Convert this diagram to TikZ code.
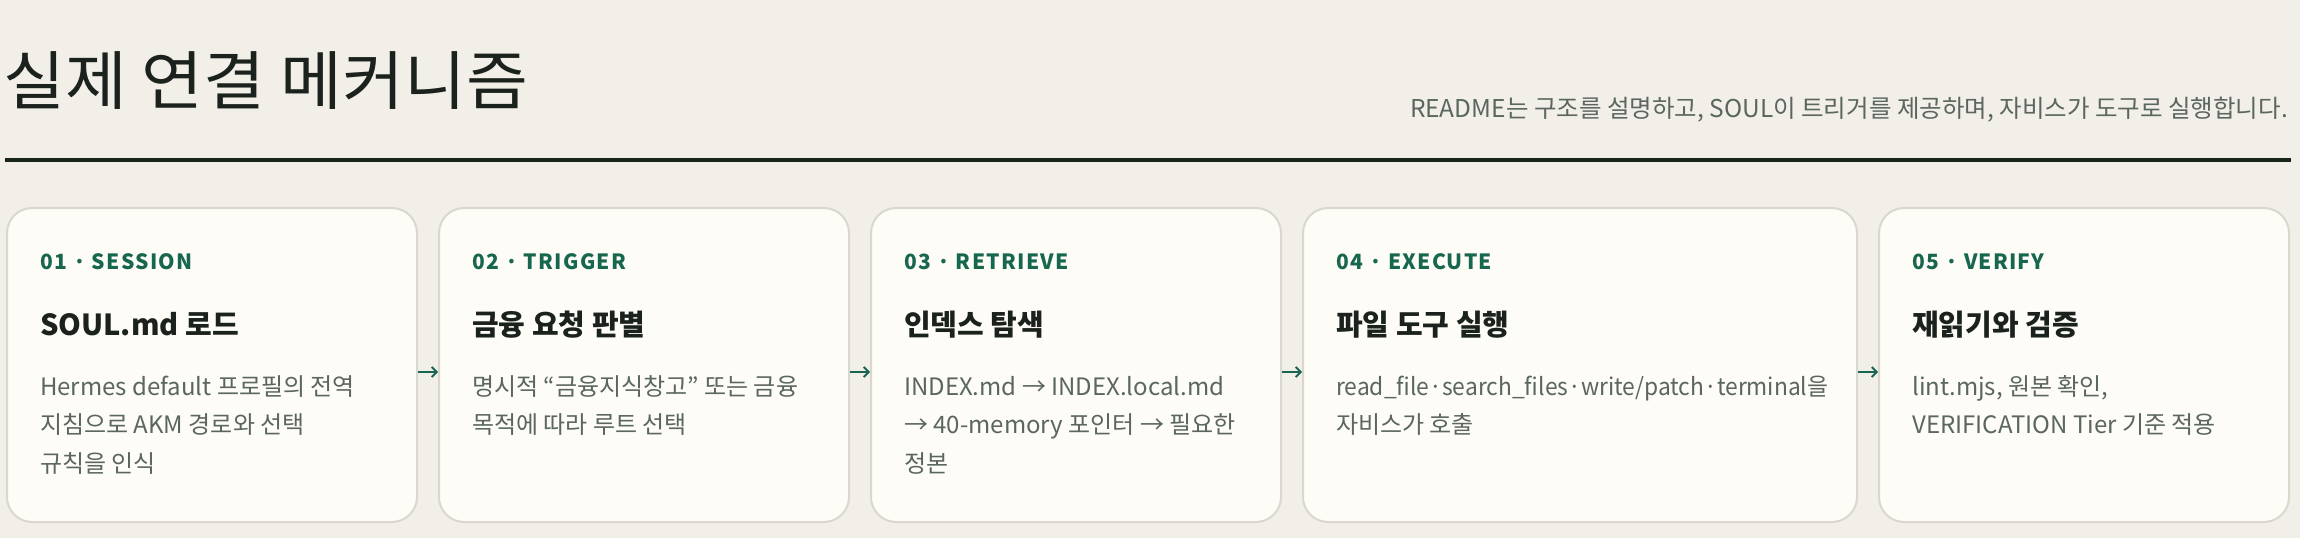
\documentclass[tikz,border=0pt]{standalone}
\usepackage{fontspec}
\setmainfont{Noto Sans CJK KR}
\newfontfamily\lblfont{Noto Sans CJK KR}[LetterSpace=6]
\newfontfamily\titlefont{Noto Sans CJK KR}[FakeStretch=1.05]
\newfontfamily\narrowfont{Noto Sans CJK KR}[FakeStretch=0.95]
\usetikzlibrary{arrows.meta}
\definecolor{bg}{HTML}{F2EFE8}
\definecolor{cardfill}{HTML}{FDFCF7}
\definecolor{cardline}{HTML}{DAD7CE}
\definecolor{grn}{HTML}{17664E}
\definecolor{ink}{HTML}{1B211C}
\definecolor{bodyc}{HTML}{5B6660}
\definecolor{rulec}{HTML}{18241B}
\tikzset{
  card/.style={draw=cardline, line width=2pt, fill=cardfill, rounded corners=25pt,
    minimum height=314pt, anchor=north west, inner sep=0pt},
  lbl/.style={anchor=base west, inner sep=0pt, text=grn, font=\lblfont\bfseries\fontsize{21}{25}\selectfont},
  hd/.style={anchor=base west, inner sep=0pt, text=ink, font=\bfseries\fontsize{29}{34}\selectfont},
  bd/.style={anchor=north west, inner sep=0pt, align=left, text=bodyc, font=\fontsize{24}{38.5}\selectfont},
  arr/.style={draw=grn, line width=1.8pt, -{Straight Barb[length=5pt,width=10pt]}}
}
\begin{document}
\begin{tikzpicture}[x=1pt,y=-1pt]
\useasboundingbox[fill=bg] (0,0) rectangle (2300,538);
\node[anchor=base west, inner sep=0pt, text=ink, font=\titlefont\fontsize{64}{72}\selectfont] (title) at (3,104) {실제 연결 메커니즘};
\node[anchor=base east, inner sep=0pt, text=bodyc, font=\fontsize{24.5}{28}\selectfont] (sub) at (2288,117) {README는 구조를 설명하고, SOUL이 트리거를 제공하며, 자비스가 도구로 실행합니다.};
\coordinate (r1) at (5,160);
\coordinate (r2) at (2291,160);
\draw[rulec, line width=4pt] (r1) -- (r2);
% cards
\node[card, minimum width=410pt] (c1) at (6,207) {};
\node[card, minimum width=410pt] (c2) at (438,207) {};
\node[card, minimum width=410pt] (c3) at (870,207) {};
\node[card, minimum width=554pt] (c4) at (1302,207) {};
\node[card, minimum width=410pt] (c5) at (1878,207) {};
% labels
\node[lbl] (l1) at (40,269) {01 · SESSION};
\node[lbl] (l2) at (472,269) {02 · TRIGGER};
\node[lbl] (l3) at (904,269) {03 · RETRIEVE};
\node[lbl] (l4) at (1336,269) {04 · EXECUTE};
\node[lbl] (l5) at (1912,269) {05 · VERIFY};
% headings
\node[hd] (h1) at (40,335) {SOUL.md 로드};
\node[hd] (h2) at (472,335) {금융 요청 판별};
\node[hd] (h3) at (904,335) {인덱스 탐색};
\node[hd] (h4) at (1336,335) {파일 도구 실행};
\node[hd] (h5) at (1912,335) {재읽기와 검증};
% bodies
\node[bd] (b1) at (40,368) {\strut Hermes default 프로필의 전역\\지침으로 AKM 경로와 선택\\규칙을 인식};
\node[bd] (b2) at (472,368) {\strut 명시적 “금융지식창고” 또는 금융\\목적에 따라 루트 선택};
\node[bd] (b3) at (904,368) {\strut INDEX.md → INDEX.local.md\\→ 40-memory 포인터 → 필요한\\정본};
\node[bd] (b4) at (1336,368) {\strut {\narrowfont read\_file·search\_files·write/patch·terminal을}\\자비스가 호출};
\node[bd] (b5) at (1912,368) {\strut lint.mjs, 원본 확인,\\VERIFICATION Tier 기준 적용};
% arrows
\draw[arr] ([yshift=-7pt]c1.east) -- ([yshift=-7pt]c2.west);
\draw[arr] ([yshift=-7pt]c2.east) -- ([yshift=-7pt]c3.west);
\draw[arr] ([yshift=-7pt]c3.east) -- ([yshift=-7pt]c4.west);
\draw[arr] ([yshift=-7pt]c4.east) -- ([yshift=-7pt]c5.west);
\end{tikzpicture}
\end{document}
